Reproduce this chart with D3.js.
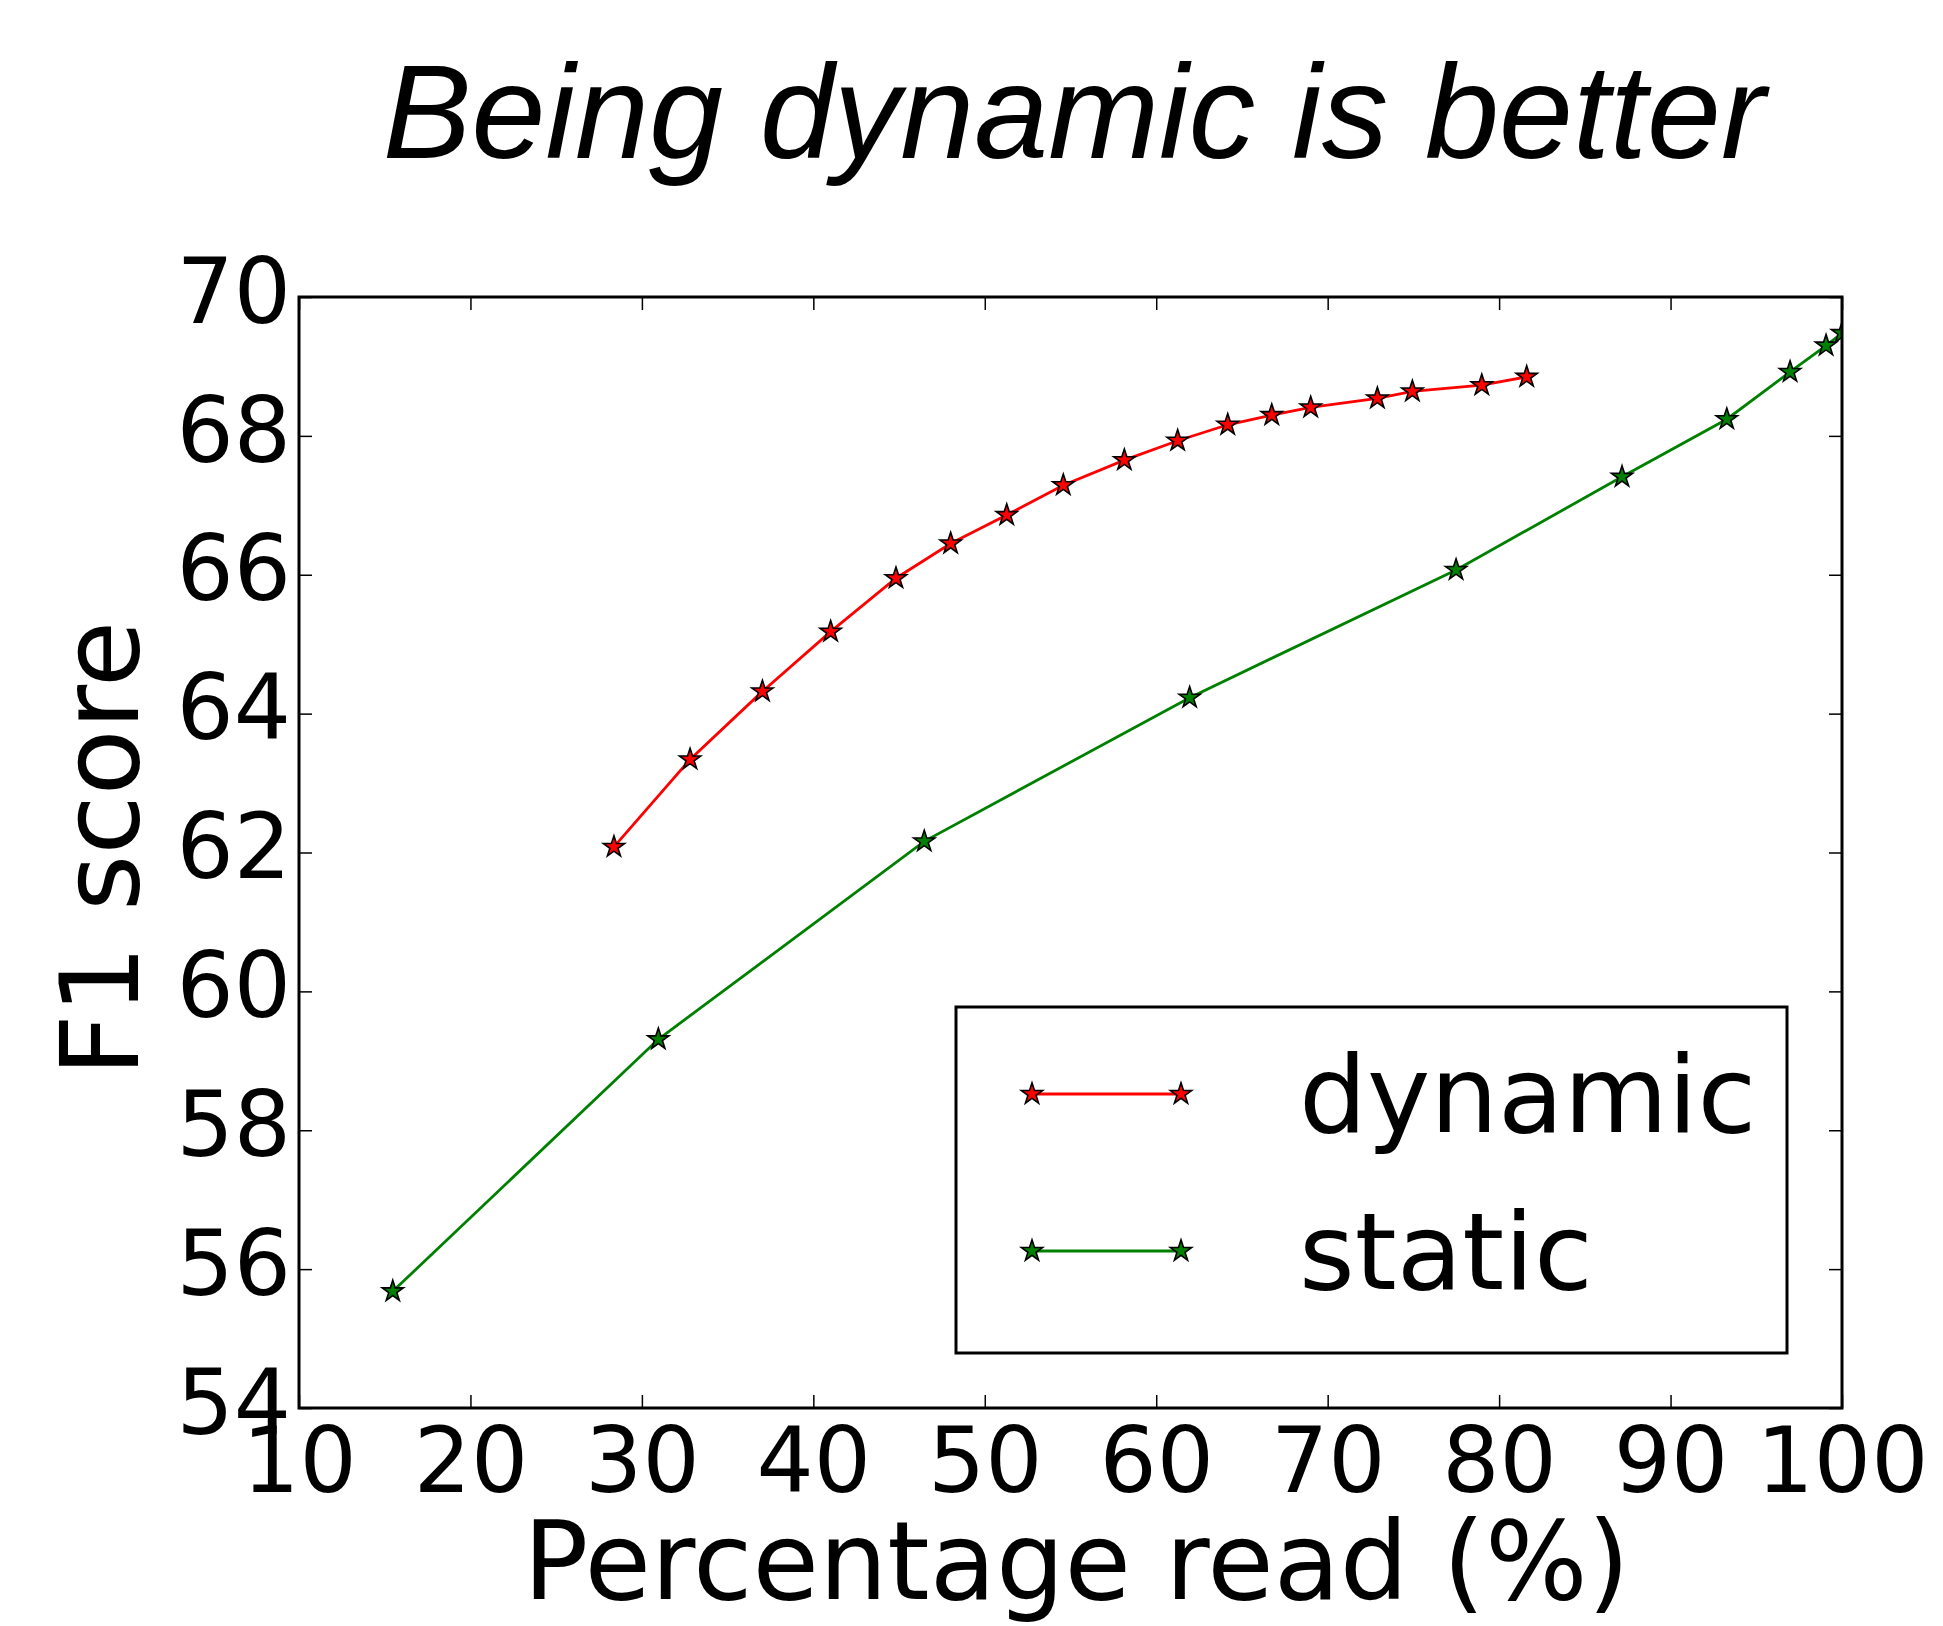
<!DOCTYPE html>
<html>
<head>
<meta charset="utf-8">
<script src="https://cdn.jsdelivr.net/npm/d3@7"></script>
<style>
  body { margin: 0; background: #fff; }
  svg { display: block; }
  .tick text { font-family: "DejaVu Sans", sans-serif; font-size: 90px; fill: #000; }
  .tick line { stroke: #000; stroke-width: 1.5px; }
</style>
</head>
<body>
<svg id="chart"></svg>
<script>
/* F1 score vs percentage read, dynamic vs static */
const dynamicX = [28.37, 32.81, 37.03, 41.01, 44.82, 48.01, 51.28, 54.58, 58.14, 61.25, 64.17, 66.74, 69.01, 72.9, 74.94, 78.99, 81.61]
const dynamicY = [62.08, 63.34, 64.32, 65.18, 65.95, 66.45, 66.86, 67.29, 67.65, 67.93, 68.16, 68.30, 68.41, 68.54, 68.64, 68.73, 68.85]
const staticX = [15.47, 30.96, 46.47, 61.95, 77.49, 87.17, 93.28, 96.97, 99.07, 100.0]
const staticY = [55.68, 59.31, 62.16, 64.23, 66.07, 67.41, 68.24, 68.92, 69.30, 69.48]
const xTicks = [10, 20, 30, 40, 50, 60, 70, 80, 90, 100]
const yTicks = [54, 56, 58, 60, 62, 64, 66, 68, 70]
const seriesNames = ['dynamic', 'static']
const seriesColors = ['#ff0000', '#008000']

const W = 1943, H = 1626
const margin = { top: 297, right: 101, bottom: 218, left: 299 }
const width = W - margin.left - margin.right
const height = H - margin.top - margin.bottom

const svg = d3.select('#chart')
    .attr('width', W)
    .attr('height', H)

const g = svg.append('g')
    .attr('transform', `translate(${margin.left},${margin.top})`)

const x = d3.scaleLinear().domain([10, 100]).range([0, width])
const y = d3.scaleLinear().domain([54, 70]).range([height, 0])

// ticks point inward on all four sides
const tick = 13
g.append('g')
    .attr('transform', `translate(0,${height})`)
    .call(d3.axisBottom(x).tickValues(xTicks).tickSize(-tick).tickPadding(20).tickFormat(d3.format('d')))
    .call(a => a.select('.domain').remove())
    .selectAll('text').attr('dy', '0.71em')

g.append('g')
    .call(d3.axisLeft(y).tickValues(yTicks).tickSize(-tick).tickPadding(8).tickFormat(d3.format('d')))
    .call(a => a.select('.domain').remove())
    .selectAll('text').attr('dy', '0.28em')

g.append('g')
    .call(d3.axisTop(x).tickValues(xTicks).tickSize(-tick).tickFormat(''))
    .call(a => a.select('.domain').remove())

g.append('g')
    .attr('transform', `translate(${width},0)`)
    .call(d3.axisRight(y).tickValues(yTicks).tickSize(-tick).tickFormat(''))
    .call(a => a.select('.domain').remove())

svg.append('defs').append('clipPath')
    .attr('id', 'plotclip')
    .append('rect')
    .attr('width', width)
    .attr('height', height)

const plot = g.append('g').attr('clip-path', 'url(#plotclip)')

const line = d3.line()
    .x(d => x(d[0]))
    .y(d => y(d[1]))

const star = d3.symbol().type(d3.symbolStar).size(140)

const series = [
    d3.zip(dynamicX, dynamicY),
    d3.zip(staticX, staticY)
]

series.forEach((pts, i) => {
    plot.append('path')
        .datum(pts)
        .attr('d', line)
        .attr('fill', 'none')
        .attr('stroke', seriesColors[i])
        .attr('stroke-width', 2.8)

    plot.selectAll(null)
        .data(pts)
        .enter()
        .append('path')
        .attr('d', star)
        .attr('transform', d => `translate(${x(d[0])},${y(d[1])})`)
        .attr('fill', seriesColors[i])
        .attr('stroke', '#000')
        .attr('stroke-width', 1.6)
})

// frame
g.append('rect')
    .attr('width', width)
    .attr('height', height)
    .attr('fill', 'none')
    .attr('stroke', '#000')
    .attr('stroke-width', 3)

// legend
const lg = svg.append('g')
lg.append('rect')
    .attr('x', 956)
    .attr('y', 1007)
    .attr('width', 831)
    .attr('height', 346)
    .attr('fill', '#fff')
    .attr('stroke', '#000')
    .attr('stroke-width', 3)

const legendY = [1094, 1251]
seriesNames.forEach((name, i) => {
    const row = lg.append('g')
    row.append('line')
        .attr('x1', 1032).attr('x2', 1181)
        .attr('y1', legendY[i]).attr('y2', legendY[i])
        .attr('stroke', seriesColors[i])
        .attr('stroke-width', 2.8)
    ;[1032, 1181].forEach(cx => {
        row.append('path')
            .attr('d', star)
            .attr('transform', `translate(${cx},${legendY[i]})`)
            .attr('fill', seriesColors[i])
            .attr('stroke', '#000')
            .attr('stroke-width', 1.6)
    })
    row.append('text')
        .attr('x', 1299)
        .attr('y', legendY[i] + 38)
        .attr('font-family', '"DejaVu Sans", sans-serif')
        .attr('font-size', 107)
        .text(name)
})

// axis labels and title
svg.append('text')
    .attr('x', margin.left + width / 2 + 6)
    .attr('y', 1599)
    .attr('text-anchor', 'middle')
    .attr('font-family', '"DejaVu Sans", sans-serif')
    .attr('font-size', 108)
    .text('Percentage read (%)')

svg.append('text')
    .attr('transform', `translate(138,${margin.top + height / 2 - 4}) rotate(-90)`)
    .attr('text-anchor', 'middle')
    .attr('font-family', '"DejaVu Sans", sans-serif')
    .attr('font-size', 108)
    .text('F1 score')

svg.append('text')
    .attr('x', 1074)
    .attr('y', 158)
    .attr('text-anchor', 'middle')
    .attr('font-family', '"Liberation Sans", Arial, sans-serif')
    .attr('font-style', 'italic')
    .attr('font-size', 133)
    .text('Being dynamic is better')
</script>
</body>
</html>
